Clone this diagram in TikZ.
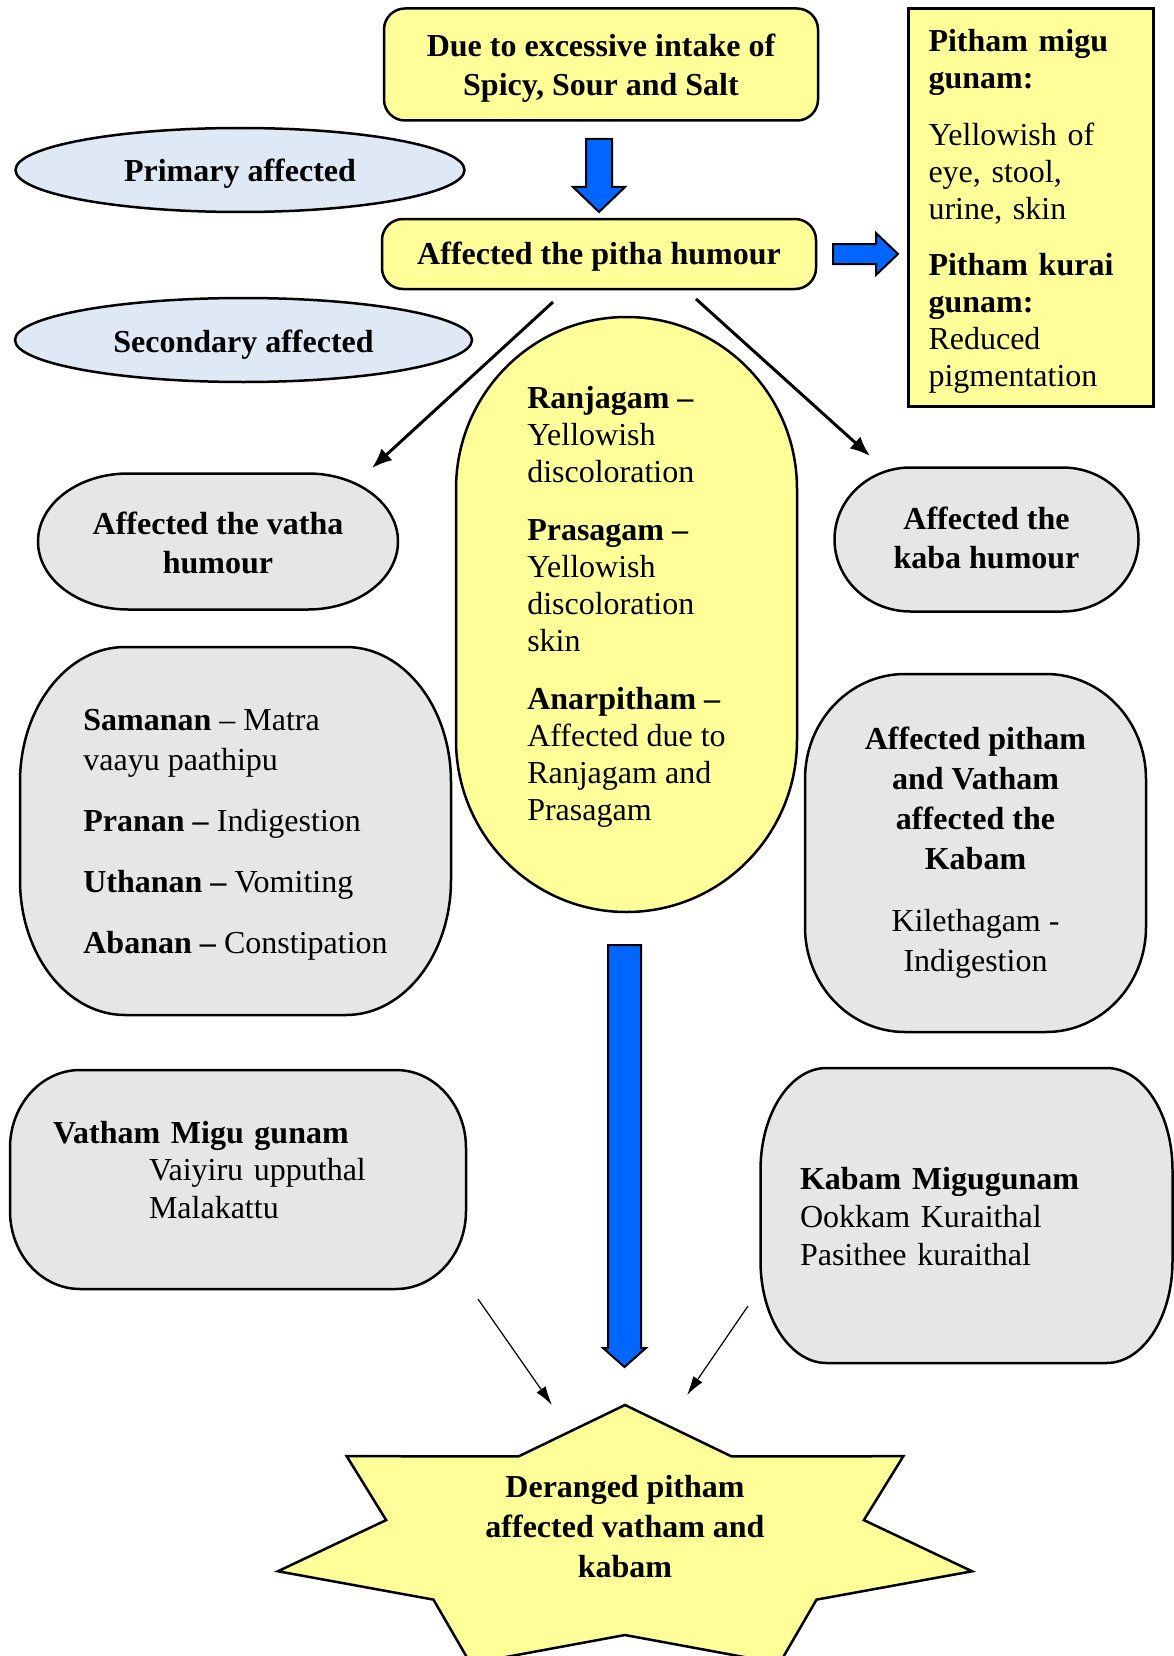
\documentclass[tikz,border=0pt]{standalone}
\usepackage{fontspec}
\setmainfont{Liberation Serif}
\usetikzlibrary{arrows.meta,backgrounds}

\definecolor{pithyellow}{HTML}{FFFF99}
\definecolor{ellblue}{HTML}{DEE9F5}
\definecolor{boxgray}{HTML}{E6E6E6}
\definecolor{arrowblue}{HTML}{0066FF}

% outline with elliptic corners round a named node:
% style, node, x radius, y radius, vertical shift of the outline
\newcommand{\ebox}[5]{%
  \path[#1] ([xshift=#3pt, yshift=#5pt]#2.north west)
    -- ([xshift=-#3pt, yshift=#5pt]#2.north east)
    arc[start angle=-90, end angle=0, x radius=#3, y radius=#4]
    -- ([yshift=#4pt+#5pt]#2.south east)
    arc[start angle=0, end angle=90, x radius=#3, y radius=#4]
    -- ([xshift=#3pt, yshift=#5pt]#2.south west)
    arc[start angle=90, end angle=180, x radius=#3, y radius=#4]
    -- ([yshift=-#4pt+#5pt]#2.north west)
    arc[start angle=180, end angle=270, x radius=#3, y radius=#4] -- cycle;}

\tikzset{%
  >={Latex[width=16pt,length=20pt]},
       base/.style = {rectangle, inner sep=0pt, outer sep=0pt, align=center,
                      font=\fontsize{32}{39}\selectfont},
       bold/.style = {base, font=\fontsize{32}{39}\selectfont\bfseries},
       left/.style = {base, align=left},
   grayline/.style = {draw=black, line width=2.5pt, fill=boxgray},
 yellowline/.style = {draw=black, line width=2.5pt, fill=pithyellow},
    ellline/.style = {draw=black, line width=2.5pt, fill=ellblue},
     sqline/.style = {draw=black, line width=3pt, fill=pithyellow},
 blockarrow/.style = {draw=black, line width=2pt, fill=arrowblue},
       link/.style = {->, line width=3pt},
   thinlink/.style = {-{Latex[width=11pt,length=19pt]}, line width=1.2pt},
}

\begin{document}
\begin{tikzpicture}[x=1pt, y=-1pt]
  \useasboundingbox (0,0) rectangle (1174,1656);
  \clip (0,0) rectangle (1174,1656);

  \node (cause)     [bold, minimum width=434pt, minimum height=112pt] at (601,68.5)
        {Due to excessive intake of\\Spicy, Sour and Salt};
  \node (primary)   [bold, minimum width=449pt, minimum height=84pt] at (240,174)
        {Primary affected};
  \node (pitha)     [bold, minimum width=434pt, minimum height=70pt] at (599,257)
        {Affected the pitha humour};
  \node (secondary) [bold, minimum width=457pt, minimum height=84pt] at (243.5,345)
        {Secondary affected};
  \node (migu)      [left, font=\fontsize{32}{37}\selectfont, minimum width=245pt,
                     minimum height=397pt, text width=204pt] at (1030.5,211.5)
        {\textbf{Pitham migu}\\\textbf{gunam:}\\[19.5pt]Yellowish of\\eye, stool,\\urine, skin\\[19.5pt]%
         \textbf{Pitham kurai}\\\textbf{gunam:}\\Reduced\\pigmentation};

  \node (ranja)     [left, font=\fontsize{32}{37}\selectfont,
                     minimum width=341pt, minimum height=595pt] at (626.5,606.5)
        {\textbf{Ranjagam –}\\Yellowish\\discoloration\\[21pt]%
         \textbf{Prasagam –}\\Yellowish\\discoloration\\skin\\[21pt]%
         \textbf{Anarpitham –}\\Affected due to\\Ranjagam and\\Prasagam};
  \node (vatha)     [bold, minimum width=360pt, minimum height=136pt] at (218,543)
        {Affected the vatha\\humour};
  \node (kaba)      [bold, minimum width=304pt, minimum height=144pt] at (986.5,538)
        {Affected the\\kaba humour};
  \node (samanan)   [left, font=\fontsize{32}{40}\selectfont,
                     minimum width=431pt, minimum height=368pt] at (235.5,835)
        {\textbf{Samanan} – Matra\\vaayu paathipu\\[21pt]%
         \textbf{Pranan –} Indigestion\\[21pt]%
         \textbf{Uthanan –} Vomiting\\[21pt]%
         \textbf{Abanan –} Constipation};
  \node (kabam)     [base, font=\fontsize{32}{40}\selectfont,
                     minimum width=341pt, minimum height=358pt] at (975.5,853)
        {\textbf{Affected pitham}\\\textbf{and Vatham}\\\textbf{affected the}\\\textbf{Kabam}\\[22pt]%
         Kilethagam -\\Indigestion};
  \node (vmigu)     [left, text width=370pt, font=\fontsize{32}{37.5}\selectfont,
                     minimum width=456pt, minimum height=219pt] at (238,1170)
        {\textbf{Vatham Migu gunam}\\\hspace*{96pt}Vaiyiru upputhal\\\hspace*{96pt}Malakattu};
  \node (kmigu)     [left, text width=333pt, font=\fontsize{32}{38}\selectfont,
                     minimum width=412pt, minimum height=295pt] at (966.5,1216.5)
        {\textbf{Kabam Migugunam}\\Ookkam Kuraithal\\Pasithee kuraithal};

  \begin{pgfonlayer}{background}
    \ebox{yellowline}{cause}{21}{21}{4}
    \ebox{yellowline}{pitha}{21}{21}{3}
    \path[ellline] ([yshift=4pt]primary.center) ellipse [x radius=224.5, y radius=42];
    \path[ellline] ([yshift=5pt]secondary.center) ellipse [x radius=228.5, y radius=42];
    \path[sqline] ([yshift=4pt]migu.north west) rectangle ([yshift=4pt]migu.south east);
    \ebox{yellowline}{ranja}{170.5}{172}{-8}
    \ebox{grayline}{vatha}{90}{68}{1.5}
    \ebox{grayline}{kaba}{76}{72}{-1.5}
    \ebox{grayline}{samanan}{105}{135}{4}
    \ebox{grayline}{kabam}{100}{105}{0}
    \ebox{grayline}{vmigu}{70}{78}{-9.5}
    \ebox{grayline}{kmigu}{66}{102}{1}
  \end{pgfonlayer}

  % seven point star
  \begin{scope}[shift={(625,1541)}]
    \draw[yellowline, line join=miter] (-90:356 and 136)
      \foreach \k in {1,...,6} {
        -- ({-64.29+(\k-1)*51.43}:245 and 94) -- ({-90+\k*51.43}:356 and 136) }
      -- (244.29:245 and 94) -- cycle;
    \node (deranged) [bold, font=\fontsize{32}{40}\selectfont\bfseries] at (0,-14)
          {Deranged pitham\\affected vatham and\\kabam};
  \end{scope}

  % block arrows
  \draw[blockarrow] (586,139) -- (612,139) -- (612,187) -- (625,187) -- (599,212)
                    -- (573,187) -- (586,187) -- cycle;
  \draw[blockarrow] (833,244) -- (876,244) -- (876,233) -- (898,254) -- (876,275)
                    -- (876,264) -- (833,264) -- cycle;
  \draw[blockarrow] (608,945) -- (641,945) -- (641,1348) -- (646,1348) -- (624.5,1367)
                    -- (603,1348) -- (608,1348) -- cycle;

  \coordinate (pithaL) at (553,302);
  \coordinate (vathaT) at (372,468);
  \coordinate (pithaR) at (696,299);
  \coordinate (kabaT)  at (870,456);
  \coordinate (vmiguB) at (478,1299);
  \coordinate (starL)  at (552,1405);
  \coordinate (kmiguB) at (748,1306);
  \coordinate (starR)  at (687,1395);

  \draw[link]     (pithaL) -- (vathaT);
  \draw[link]     (pithaR) -- (kabaT);
  \draw[thinlink] (vmiguB) -- (starL);
  \draw[thinlink] (kmiguB) -- (starR);
\end{tikzpicture}
\end{document}
